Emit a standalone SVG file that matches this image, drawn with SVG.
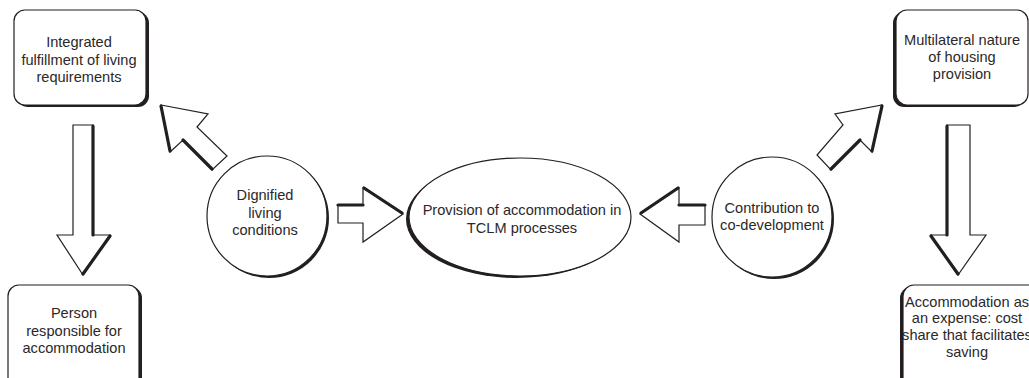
<svg xmlns="http://www.w3.org/2000/svg" width="1029" height="378" viewBox="0 0 1029 378">
  <style>
    .lbl { font-family: "Liberation Sans", Arial, sans-serif; font-size: 14.6px; fill: #2b2829; text-anchor: middle; }
    .box { fill: #ffffff; stroke: #231f20; stroke-width: 1.2; }
    .shadow { fill: #231f20; }
    .arrow { fill: #ffffff; stroke: #231f20; stroke-width: 1.2; stroke-linejoin: miter; }
    .edge { fill: none; stroke: #231f20; stroke-width: 3.2; stroke-linecap: round; }
  </style>
  <rect width="1029" height="378" fill="#ffffff"/>

  <!-- block arrows -->
  <g id="connectors">
    <!-- left column, downward -->
    <polygon class="arrow" points="73,125 93,125 93,235 110,235 83,275 57,235 73,235"/>
    <polyline class="edge" points="93,126 93,235"/>
    <polyline class="edge" points="110,236 83,274"/>
    <!-- right column, downward -->
    <polygon class="arrow" points="947,125 970,125 970,235 986,235 958,275 931,235 947,235"/>
    <polyline class="edge" points="947,126 947,235"/>
    <polyline class="edge" points="931,236 958,274"/>
    <!-- into the central ellipse from the left -->
    <polygon class="arrow" points="338,205 363,205 363,188 403,214 363,242 363,223 338,223"/>
    <polyline class="edge" points="338,205 363,205"/>
    <polyline class="edge" points="364,188 402,213"/>
    <!-- into the central ellipse from the right -->
    <polygon class="arrow" points="705,205 679,205 679,188 640,214 679,242 679,225 705,225"/>
    <polyline class="edge" points="705,205 679,205"/>
    <polyline class="edge" points="678,188 641,213"/>
    <!-- diagonal, up-left -->
    <polygon class="arrow" points="161,105 208,114 197,127 227,156 212,170 183,140 170,152"/>
    <polyline class="edge" points="161,106 170,151"/>
    <polyline class="edge" points="183,140 212,169"/>
    <!-- diagonal, up-right -->
    <polygon class="arrow" points="882,105 872,152 860,140 831,170 817,155 843,125 835,114"/>
    <polyline class="edge" points="882,106 872,151"/>
    <polyline class="edge" points="860,140 831,169"/>
  </g>

  <g id="node-integrated">
    <rect class="shadow" x="17" y="12" width="132" height="95" rx="11"/>
    <rect class="box" x="14" y="10" width="132" height="95" rx="11"/>
    <text class="lbl" x="79" y="47">Integrated</text>
    <text class="lbl" x="79" y="65">fulfillment of living</text>
    <text class="lbl" x="79" y="82">requirements</text>
  </g>

  <g id="node-person">
    <rect class="shadow" x="11" y="287" width="131" height="110" rx="11"/>
    <rect class="box" x="8" y="285" width="131" height="110" rx="11"/>
    <text class="lbl" x="74" y="318">Person</text>
    <text class="lbl" x="74" y="336">responsible for</text>
    <text class="lbl" x="74" y="353">accommodation</text>
  </g>

  <g id="node-multilateral">
    <rect class="shadow" x="893" y="12" width="132" height="95" rx="11"/>
    <rect class="box" x="896" y="10" width="132" height="95" rx="11"/>
    <text class="lbl" x="962" y="45">Multilateral nature</text>
    <text class="lbl" x="962" y="62">of housing</text>
    <text class="lbl" x="962" y="79">provision</text>
  </g>

  <g id="node-expense">
    <rect class="shadow" x="900" y="287" width="140" height="110" rx="11"/>
    <rect class="box" x="903" y="285" width="140" height="110" rx="11"/>
    <text class="lbl" x="967" y="307">Accommodation as</text>
    <text class="lbl" x="967" y="323">an expense: cost</text>
    <text class="lbl" x="967" y="340">share that facilitates</text>
    <text class="lbl" x="967" y="357">saving</text>
  </g>

  <g id="node-dignified">
    <circle class="shadow" cx="269" cy="218" r="60"/>
    <circle class="box" cx="267" cy="216" r="60"/>
    <text class="lbl" x="265" y="200">Dignified</text>
    <text class="lbl" x="265" y="218">living</text>
    <text class="lbl" x="265" y="235">conditions</text>
  </g>

  <g id="node-provision">
    <ellipse class="shadow" cx="517" cy="219" rx="111" ry="59"/>
    <ellipse class="box" cx="520" cy="217" rx="111" ry="59"/>
    <text class="lbl" x="522" y="215">Provision of accommodation in</text>
    <text class="lbl" x="522" y="233">TCLM processes</text>
  </g>

  <g id="node-contribution">
    <circle class="shadow" cx="774" cy="219" r="60"/>
    <circle class="box" cx="772" cy="217" r="60"/>
    <text class="lbl" x="772" y="213">Contribution to</text>
    <text class="lbl" x="772" y="230">co-development</text>
  </g>
</svg>
